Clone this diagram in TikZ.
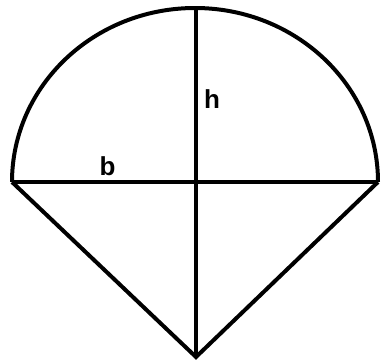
\documentclass[tikz,border=0pt]{standalone}
\usepackage{fontspec}
\setmainfont{Liberation Sans}
\tikzset{lbl/.style = {font=\fontsize{26}{30}\selectfont\bfseries, inner sep=0pt}}

\begin{document}
\begin{tikzpicture}[x=1pt, y=-1pt, line width=4pt]
        \useasboundingbox (0,0) rectangle (381,362);
        \coordinate (left) at (12,182);
        \coordinate (right) at (378,182);
        \coordinate (top) at (196,8);
        \coordinate (tip) at (196,357);
        \draw (left) arc[start angle=180, end angle=0, x radius=183, y radius=-174];
        \draw (left) -- (right);
        \draw (top) -- (tip);
        \draw [line join=miter] (left) -- (tip) -- (right);
        \node [lbl] (h) at (212,99) {h};
        \node [lbl] (b) at (107.5,166) {b};
      \end{tikzpicture}
\end{document}
